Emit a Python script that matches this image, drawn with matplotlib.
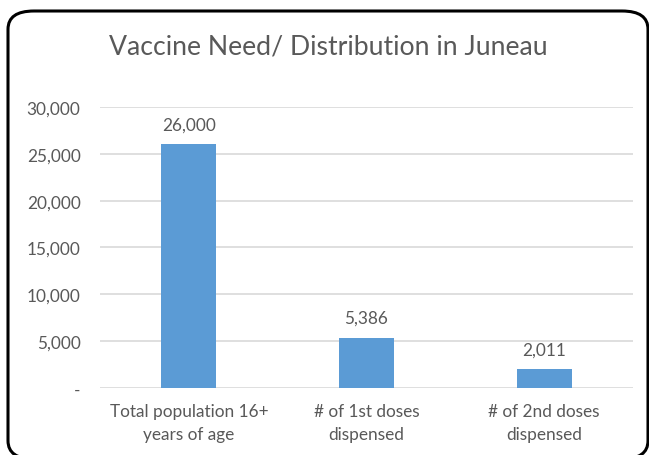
import matplotlib
matplotlib.use("Agg")
import matplotlib.pyplot as plt
from matplotlib.patches import FancyBboxPatch

# data
categories = ["Total population 16+\nyears of age", "# of 1st doses\ndispensed", "# of 2nd doses\ndispensed"]
values = [26000, 5386, 2011]
yticks = [0, 5000, 10000, 15000, 20000, 25000, 30000]
ytick_labels = ["-", "5,000", "10,000", "15,000", "20,000", "25,000", "30,000"]

plt.rcParams['font.family'] = ['Lato', 'DejaVu Sans']
grey = '#595959'

fig = plt.figure(figsize=(6.49, 4.56), dpi=100)

# rounded chart border (bottom and right edges run off the image)
border = FancyBboxPatch((8 / 649, -4 / 456), 640 / 649, 448 / 456,
                        boxstyle="round,pad=0,rounding_size=0.04",
                        transform=fig.transFigure, fill=False,
                        edgecolor='black', linewidth=2.2, zorder=0)
fig.patches.append(border)

ax = fig.add_axes([0.1541, 0.1469, 0.8212, 0.6163])
x = range(len(values))
ax.bar(x, values, width=0.31, color='#5B9BD5', zorder=3)

# value labels, centred ~20 px above each bar
for xi, v in zip(x, values):
    ax.annotate(f"{v:,}", (xi, v), xytext=(0, 20), textcoords='offset pixels',
                ha='center', va='center', fontsize=12.4, color=grey)

ax.set_xlim(-0.5, 2.5)
ax.set_ylim(0, 30000)
ax.set_yticks(yticks)
ax.set_yticklabels(ytick_labels)
ax.set_xticks(list(x))
ax.set_xticklabels(categories, linespacing=1.55)
ax.tick_params(axis='both', length=0, labelsize=12.4, labelcolor=grey)
ax.tick_params(axis='y', pad=14)
ax.tick_params(axis='x', pad=10.5)
ax.grid(axis='y', color='#D9D9D9', linewidth=1.2, zorder=0)
for s in ax.spines.values():
    s.set_visible(False)

fig.text(0.5 + 8 / 649 / 2, 1 - 47 / 456, "Vaccine Need/ Distribution in Juneau",
         ha='center', va='center', fontsize=19.2, color=grey)

fig.savefig("out.png", dpi=100)
